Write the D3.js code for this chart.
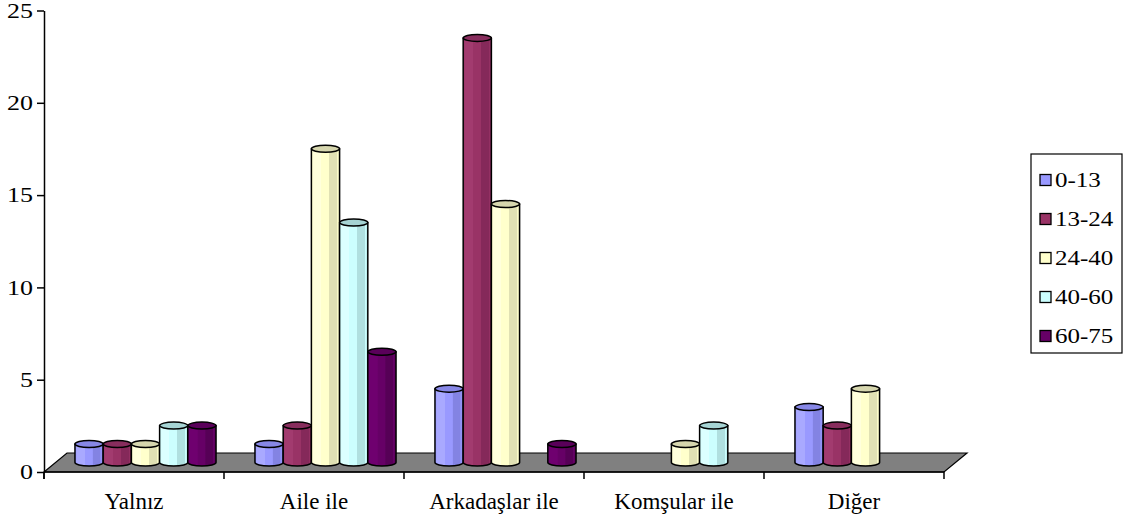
<!DOCTYPE html>
<html>
<head>
<meta charset="utf-8">
<script src="https://cdn.jsdelivr.net/npm/d3@7"></script>
<style>
  html, body { margin: 0; padding: 0; background: #fff; }
  svg { display: block; }
</style>
</head>
<body>
<svg id="chart" width="1123" height="519"></svg>
<script>
// Categories along the x axis
const categories = ["Yalnız", "Aile ile", "Arkadaşlar ile", "Komşular ile", "Diğer"];
// Age groups (series)
const seriesNames = ["0-13", "13-24", "24-40", "40-60", "60-75"];
// Values per series, one entry per category
const s0_13  = [1, 1, 4, 0, 3];
const s13_24 = [1, 2, 23, 0, 2];
const s24_40 = [1, 17, 14, 1, 4];
const s40_60 = [2, 13, 0, 2, 0];
const s60_75 = [2, 6, 1, 0, 0];
const seriesValues = [s0_13, s13_24, s24_40, s40_60, s60_75];
const yTicks = [0, 5, 10, 15, 20, 25];

const FONT = "'Liberation Serif', 'Times New Roman', serif";

// Fill colours: base, light stripe, shaded side, top cap
const palette = [
  { base: "#9999ff", light: "#a9a9ff", dark: "#8383e3", top: "#8787e6" },
  { base: "#993366", light: "#a23b6f", dark: "#85295a", top: "#882d5d" },
  { base: "#ffffcc", light: "#ffffdc", dark: "#e0e0b4", top: "#d6d6ae" },
  { base: "#ccffff", light: "#dcffff", dark: "#b0e0e0", top: "#a6d4d4" },
  { base: "#660066", light: "#6f006f", dark: "#560056", top: "#5a005a" }
];

const svg = d3.select("#chart");

// Projection of the floor depth
const depthX = 23, depthY = -19;
const midX = depthX / 2, midY = depthY / 2;

const x0 = d3.scaleBand().domain(categories).range([44, 944]).padding(0);
const x1 = d3.scaleBand().domain(seriesNames).range([0, x0.bandwidth()])
  .paddingInner(0).paddingOuter(0.69);
const y = d3.scaleLinear().domain([0, 25]).range([472, 10.5]);

// Gradients for the faceted column bodies
const defs = svg.append("defs");
palette.forEach((c, i) => {
  const g = defs.append("linearGradient").attr("id", "grad" + i)
    .attr("x1", "0").attr("x2", "1").attr("y1", "0").attr("y2", "0");
  [[0, c.base], [0.08, c.light], [0.34, c.light], [0.35, c.base],
   [0.62, c.base], [0.63, c.dark], [0.9, c.dark], [0.91, c.base], [1, c.dark]]
    .forEach(([o, col]) => g.append("stop").attr("offset", o).attr("stop-color", col));
});

// Floor
const floorPts = [
  [x0.range()[0], y(0)],
  [x0.range()[0] + depthX, y(0) + depthY],
  [x0.range()[1] + depthX, y(0) + depthY],
  [x0.range()[1], y(0)]
];
svg.append("path")
  .attr("d", d3.line()(floorPts) + "Z")
  .attr("fill", "#808080")
  .attr("stroke", "#000")
  .attr("stroke-width", 1.2);

// Columns
const ry = 3.5;
const bars = [];
categories.forEach((cat, ci) => {
  seriesNames.forEach((s, si) => {
    const v = seriesValues[si][ci];
    if (v > 0) bars.push({ cat, s, si, v });
  });
});

const barG = svg.append("g").attr("class", "bars");
bars.forEach(d => {
  const w = x1.bandwidth();
  const left = x0(d.cat) + x1(d.s) + midX;
  const right = left + w;
  const base = y(0) + midY;
  const top = y(d.v) + midY;
  const c = palette[d.si];
  const g = barG.append("g");
  g.append("path")
    .attr("d", `M${left},${top} L${left},${base} A${w / 2},${ry} 0 0 0 ${right},${base} L${right},${top} Z`)
    .attr("fill", `url(#grad${d.si})`)
    .attr("stroke", "#000")
    .attr("stroke-width", 1.5)
    .attr("stroke-linejoin", "round");
  g.append("ellipse")
    .attr("cx", left + w / 2)
    .attr("cy", top)
    .attr("rx", w / 2)
    .attr("ry", ry)
    .attr("fill", c.top)
    .attr("stroke", "#000")
    .attr("stroke-width", 1.5);
});

// Y axis (labels drawn slightly widened)
const labelStretch = 1.3;
const yAxis = svg.append("g")
  .attr("transform", "translate(44,0)")
  .call(d3.axisLeft(y).tickValues(yTicks).tickSize(7).tickSizeOuter(0).tickPadding(4));
yAxis.attr("font-family", null).attr("font-size", null);
yAxis.select(".domain").attr("stroke", "#000").attr("stroke-width", 1.5);
yAxis.selectAll(".tick line").attr("stroke", "#000").attr("stroke-width", 1.5);
yAxis.selectAll(".tick text")
  .style("font-family", FONT)
  .style("font-size", "20px")
  .attr("fill", "#000")
  .attr("x", -11 / labelStretch)
  .attr("dy", "0.34em")
  .attr("transform", `scale(${labelStretch},1)`);
// axis line continues down to the tick marks below the floor
svg.append("line")
  .attr("x1", 44).attr("x2", 44).attr("y1", y(0)).attr("y2", y(0) + 7)
  .attr("stroke", "#000").attr("stroke-width", 1.5);

// X axis: front edge of the floor, ticks at category boundaries
const xg = svg.append("g");
xg.append("line")
  .attr("x1", x0.range()[0]).attr("x2", x0.range()[1])
  .attr("y1", y(0)).attr("y2", y(0))
  .attr("stroke", "#000").attr("stroke-width", 1.5);
const bounds = categories.map(c => x0(c)).concat([x0.range()[1]]);
xg.selectAll("line.tick").data(bounds).join("line")
  .attr("class", "tick")
  .attr("x1", d => d).attr("x2", d => d)
  .attr("y1", y(0)).attr("y2", y(0) + 7)
  .attr("stroke", "#000").attr("stroke-width", 1.5);
xg.selectAll("text").data(categories).join("text")
  .attr("x", d => x0(d) + x0.bandwidth() / 2)
  .attr("y", 509)
  .attr("text-anchor", "middle")
  .style("font-family", FONT)
  .style("font-size", "23px")
  .text(d => d);

// Legend
const lg = svg.append("g");
lg.append("rect")
  .attr("x", 1031).attr("y", 154).attr("width", 91).attr("height", 199)
  .attr("fill", "#fff").attr("stroke", "#000").attr("stroke-width", 1.2);
const legendY = d3.scalePoint().domain(seriesNames).range([180, 336]);
seriesNames.forEach((s, i) => {
  const cy = legendY(s);
  lg.append("rect")
    .attr("x", 1040).attr("y", cy - 5.5).attr("width", 11).attr("height", 11)
    .attr("fill", palette[i].base).attr("stroke", "#000").attr("stroke-width", 1.3);
  lg.append("g")
    .attr("transform", `translate(1055,${cy}) scale(1.25,1)`)
    .append("text")
    .attr("dy", "0.35em")
    .style("font-family", FONT)
    .style("font-size", "20px")
    .text(s);
});
</script>
</body>
</html>
